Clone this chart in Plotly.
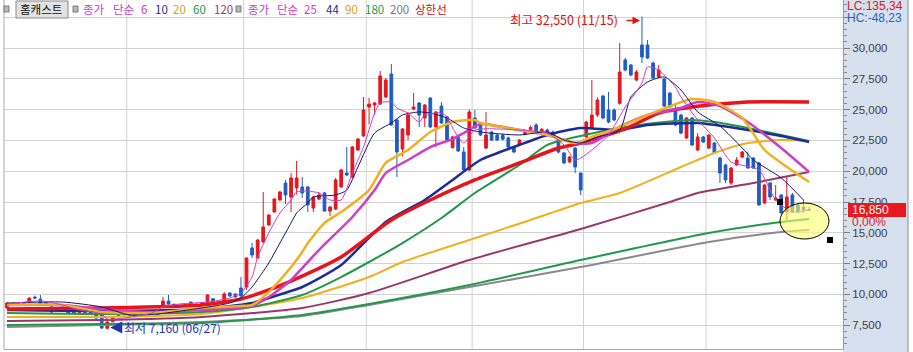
import plotly.graph_objects as go

W, H = 913, 352

# ---------------- candle data (index = trading day) ----------------
opens = [8900,9200,9200,9250,9380,9780,9620,9350,8980,8850,
         8980,8810,8600,8550,8620,8550,8490,8490,7250,7780,
         8200,8350,8400,8360,8300,8420,8500,8730,8980,9460,
         9200,9000,9100,9380,9100,9250,9300,9650,9300,9300,
         10110,10030,10520,10600,13770,12950,14250,15630,16690,17660,
         19040,17900,18640,18720,18720,17010,17740,18230,16770,16930,
         18720,19850,19530,21720,22860,25210,25370,25450,26020,27890,
         24160,21800,22940,25050,25540,24320,25940,23590,25290,24400,
         21900,22780,21560,20100,24320,23910,21880,23180,22940,22900,
         22700,21960,22130,23000,23400,23750,23250,23340,23180,22700,
         21480,20750,21880,19850,22780,23510,24560,26100,24970,24970,
         25510,29030,28620,27400,30240,30240,28780,27650,27480,26350,
         24970,24560,22700,24320,21720,22780,21880,22290,21070,20500,
         19040,20500,21150,21070,21070,20670,17420,19040,17660,18070,
         16690,18070,17260,17090,16900]
highs = [9350,9300,9320,9380,9780,9900,9950,9400,9050,8950,
         9050,8850,8650,8650,8680,8600,8550,8550,7900,8250,
         8400,8480,8450,8420,8420,8550,8650,8800,9790,9950,
         9250,9120,9200,9420,9250,9360,10000,9700,9420,10200,
         10200,10100,11410,13000,14170,14500,18310,16500,17800,18400,
         19290,19850,20830,19530,18800,18000,18310,18300,17200,19450,
         20200,21960,22050,22700,26020,25940,25620,28130,27560,28700,
         24200,23500,24810,26350,25600,25450,26000,24900,25620,24480,
         22850,22850,21960,25000,24970,24000,24810,23250,23000,23050,
         22800,22050,22600,23250,23700,23900,23500,23450,23300,22800,
         21560,21250,21950,19900,24100,27400,26000,26200,26430,25100,
         30400,29200,28700,28210,32550,30650,28900,28620,27550,26400,
         25370,24650,24400,24400,23100,22850,23000,22350,21150,20600,
         20350,21150,21650,21560,21150,20750,18950,19100,18880,18150,
         19530,18230,17350,17660,17100]
lows = [8850,9150,9150,9200,9350,9650,9100,9200,8500,8800,
        8700,8450,8450,8500,8500,8450,8000,7200,7160,7750,
        8150,8300,8250,8250,8250,8380,8450,8300,8950,9180,
        9100,8950,9050,9100,9050,9200,9250,9400,9250,9250,
        9820,9750,9800,10360,12950,12900,14200,15600,16650,17600,
        17340,16690,18100,17820,16690,16690,17650,16700,16360,16850,
        18650,19600,19450,21650,22800,23800,24560,25400,25950,23700,
        19530,21200,22530,24950,23590,23590,23500,21960,23850,22450,
        21850,21550,20000,20000,23450,22850,21800,22450,22450,22500,
        21900,21450,22050,22900,23300,23000,23150,23000,22700,21450,
        20600,20650,19850,18070,22700,23400,24400,24200,23900,24050,
        25400,28100,27700,27300,28780,29100,27500,27550,25200,25100,
        23650,23000,22600,22050,21650,22300,21800,21400,19040,19040,
        18880,20450,21050,20200,20200,17200,17350,17660,17600,16550,
        16040,16600,16600,16600,16770]
closes = [9300,9250,9260,9320,9700,9700,9140,9250,8570,8900,
          8730,8490,8500,8600,8550,8480,8080,7270,7750,8100,
          8300,8420,8320,8300,8350,8490,8600,8330,9460,9220,
          9140,9060,9140,9140,9200,9300,9950,9450,9360,10030,
          9870,9790,9870,12950,13200,14410,15470,16440,17740,18310,
          18070,19450,19450,18230,17260,17900,18070,16770,17090,19290,
          20100,19690,21960,22610,24970,25450,25540,27730,27400,23750,
          21560,23430,24560,25210,24560,25370,23590,24810,23910,22530,
          22780,21640,20100,24810,23510,22940,22940,22530,22530,22600,
          21960,21560,22530,23150,23550,23100,23400,23100,22780,21560,
          20670,21150,20340,18470,23990,24560,25780,24320,23990,24160,
          28050,28210,27810,28050,29270,29190,27560,28210,25290,25210,
          23750,23100,24320,22130,22780,22370,22940,21480,19850,19290,
          20260,20910,21560,20260,20260,17260,18880,17910,17820,16610,
          17910,16690,16690,16850,16850]
idx = list(range(len(closes)))

# month boundaries (index of first trading day of Jul..Dec)
month_start_idx = [22, 43, 65, 84, 104, 126]
low_date, high_date = "06/27", "11/15"

# ---------------- moving-average lines ----------------
ma6_x = [0,6,10,13,17,18,21,26,28,31,36,40,42,44,45,47,49,51,52,54,56,58,60,62,64,66,67,69,70,72,
         74,75,78,79,80,82,84,92,97,100,102,103,105,108,111,114,115,117,120,121,124,127,130,135,138,141,144]
ma6_v = [9220,9460,9140,8730,8410,8000,8080,8490,8980,9220,9380,9710,10110,11410,13040,14980,16610,17660,18310,18390,
         18230,17660,17660,19850,21960,24720,25540,25620,25130,24720,23990,24560,24720,24400,23510,22290,23340,23340,
         23100,22130,20910,21070,21720,22940,25210,27160,28460,28210,26830,26020,24160,22700,20750,20100,17660,16690,16850]
ma10_x = [0,10,17,22,27,35,40,42,44,47,49,51,52,54,55,59,61,63,66,69,71,74,76,79,82,85,92,97,100,103,
          106,110,112,115,118,121,124,128,132,134,139,143]
ma10_v = [9300,9380,8980,8330,8410,8900,9300,9710,10600,12550,14170,15800,16610,17420,17910,18070,18470,20340,23100,23910,
          24560,24810,24720,24320,23510,23180,22940,23180,22530,22290,22780,23340,26020,27240,27650,26590,24810,23670,
          21880,20910,19450,17660]
ma20_x = [0,10,17,26,35,42,44,47,51,53,54,57,60,65,68,72,76,80,84,85,92,97,102,105,110,115,123,127,132,136,139,144]
ma20_v = [9140,9140,8570,8490,8900,9060,9140,10190,12220,13440,14170,15800,16690,18470,20670,21720,23180,23990,24160,
          23910,23340,22940,22290,22780,23590,24560,25860,25620,24320,21720,20670,19120]
ma25_x = [0,10,17,26,35,44,47,51,53,56,62,66,68,72,76,80,82,85,92,97,102,105,110,115,121,124,128,133,139,144]
ma25_v = [9140,9140,8810,8570,8730,9060,9790,11170,12140,13600,16280,18470,19850,20910,21960,22610,23100,23830,23340,
          22940,22290,22290,23590,24560,25130,25620,25290,23990,21880,19940]
ma44_x = [0,17,35,44,47,53,60,68,75,80,85,92,97,103,110,115,124,133,139,144]
ma44_v = [8730,8650,8810,9300,9710,10600,12390,15880,17660,19290,20910,22130,22940,23510,23340,23750,23910,23340,22860,22370]
ma60_x = [0,17,35,44,53,60,65,71,78,84,92,97,103,110,118,123,127,133,139,144]
ma60_v = [8490,8410,8570,8980,9950,11410,12630,14170,16200,18230,20500,22130,22860,23510,23990,24160,23990,23510,22940,22450]
ma90_x = [0,17,35,53,65,71,83,94,103,110,121,127,133,139,144]
ma90_v = [8170,8170,8410,9710,11410,12630,14420,16040,17420,18230,20340,21480,22290,22530,22450]
ma120_x = [0,17,35,53,65,83,103,119,124,134,144]
ma120_v = [7840,7920,8170,8900,10110,12790,15310,17500,18230,19040,19940]
ma180_x = [0,17,35,53,65,83,103,126,139,144]
ma180_v = [7520,7600,7680,8330,9220,10760,12790,14980,15880,16120]
ma200_x = [0,17,35,53,65,83,103,126,139,144]
ma200_v = [7350,7520,7760,8250,9140,10600,12220,14250,15070,15230]
upper_x = [0,17,35,42,47,53,60,69,76,84,92,99,103,111,117,123,128,133,144]
upper_v = [8810,8900,9140,9630,10360,11490,13040,16040,17660,19290,20670,21880,22290,23430,24720,25210,25450,25620,25620]

y_ticks = [7500, 10000, 12500, 15000, 17500, 20000, 22500, 25000, 27500, 30000, 32500]
stock_name = "홈캐스트"
group_a = ["6", "10", "20", "60", "120"]
group_b = ["25", "44", "90", "180", "200"]
lc_text, hc_text = "LC:135,34", "HC:-48,23"

# ---------------- colours ----------------
RED = "#E5161E"
BLUE = "#1F5CC4"
MAG = "#CF3CC6"
NAVY = "#1C2C9A"
ORANGE = "#F0B020"
GREEN = "#22994A"
PURPLE = "#993868"
GRAY = "#8A8A8A"
UPPER = "#E8141B"

def px(x):
    return x / W

def py(y):
    return 1 - y / H

fig = go.Figure()

line_specs = [
    (ma200_x, ma200_v, GRAY, 2),
    (ma180_x, ma180_v, GREEN, 2),
    (ma120_x, ma120_v, PURPLE, 2),
    (ma90_x, ma90_v, ORANGE, 2),
    (ma60_x, ma60_v, GREEN, 2),
    (ma44_x, ma44_v, NAVY, 2.5),
    (upper_x, upper_v, UPPER, 3.5),
    (ma25_x, ma25_v, MAG, 2.5),
    (ma20_x, ma20_v, ORANGE, 2.5),
    (ma10_x, ma10_v, "#14146E", 1),
    (ma6_x, ma6_v, MAG, 1),
]
for xs, vs, col, wdt in line_specs:
    fig.add_trace(go.Scatter(x=xs, y=vs, mode="lines",
                             line=dict(color=col, width=wdt, shape="spline", smoothing=0.6),
                             hoverinfo="skip"))

fig.add_trace(go.Candlestick(
    x=idx, open=opens, high=highs, low=lows, close=closes,
    increasing=dict(line=dict(color=RED, width=1), fillcolor=RED),
    decreasing=dict(line=dict(color=BLUE, width=1), fillcolor=BLUE),
    whiskerwidth=0, hoverinfo="skip"))

shapes = []
# month grid lines
for m in month_start_idx:
    shapes.append(dict(type="line", xref="x", yref="paper", x0=m - 0.5, x1=m - 0.5,
                       y0=py(349), y1=1, line=dict(color="#D2D2D2", width=1), layer="below"))
# right axis panel
shapes.append(dict(type="rect", xref="paper", yref="paper", x0=px(843), x1=px(908), y0=0, y1=1,
                   fillcolor="#D7E0EE", line=dict(width=0), layer="below"))
shapes.append(dict(type="line", xref="paper", yref="paper", x0=px(908), x1=px(908), y0=0, y1=1,
                   line=dict(color="#8C8C8C", width=1)))
shapes.append(dict(type="line", xref="paper", yref="paper", x0=px(4), x1=px(4), y0=py(349), y1=1,
                   line=dict(color="#A8A8A8", width=1)))
# legend icons / button
for x0 in (4, 73, 236):
    shapes.append(dict(type="rect", xref="paper", yref="paper", x0=px(x0), x1=px(x0 + 5),
                       y0=py(12), y1=py(6), fillcolor="#B8B8B8", line=dict(color="#7A7A7A", width=1)))
shapes.append(dict(type="rect", xref="paper", yref="paper", x0=px(16), x1=px(68), y0=py(18), y1=py(1),
                   fillcolor="#E2E2E2", line=dict(color="#8A8A8A", width=1)))
# highlight ellipse with handles
shapes.append(dict(type="circle", xref="paper", yref="paper", x0=px(780), x1=px(829),
                   y0=py(239), y1=py(203), fillcolor="rgba(255,255,110,0.6)",
                   line=dict(color="black", width=1), layer="above"))
for (a, b) in ((777, 199), (827, 237)):
    shapes.append(dict(type="rect", xref="paper", yref="paper", x0=px(a), x1=px(a + 6),
                       y0=py(b + 6), y1=py(b), fillcolor="black", line=dict(width=0)))
# last price tag
last = closes[-1]
shapes.append(dict(type="rect", xref="paper", yref="paper", x0=px(848), x1=px(906),
                   y0=py(217), y1=py(203), fillcolor="#E8191E", line=dict(width=0), layer="above"))

ann = []
LF = "Noto Sans CJK KR, Liberation Sans, sans-serif"

def text(x, y, s, col, size=11.5, anchor="left", font=LF):
    ann.append(dict(xref="paper", yref="paper", x=px(x), y=py(y), text=s, showarrow=False,
                    xanchor=anchor, yanchor="middle", font=dict(family=font, size=size, color=col),
                    borderpad=0))

text(19, 9.5, stock_name, "#111111", 11.5)
text(82, 9.5, "종가", MAG); text(112, 9.5, "단순", MAG)
a_cols = [MAG, NAVY, "#E0A010", GREEN, PURPLE]
a_pos = [140, 154, 172, 192, 213]
for s, c, x in zip(group_a, a_cols, a_pos):
    text(x, 9.5, s, c)
text(247, 9.5, "종가", MAG); text(276, 9.5, "단순", MAG)
b_cols = [MAG, NAVY, "#E0A010", GREEN, "#7A7A7A"]
b_pos = [303, 325, 344, 364, 389]
for s, c, x in zip(group_b, b_cols, b_pos):
    text(x, 9.5, s, c)
text(414, 9.5, "상한선", "#D01010")

AF = "Liberation Sans, Arial, sans-serif"
text(846, 6, lc_text, "#E01818", 12, font=AF)
text(846, 18, hc_text, "#2F5FC0", 12, font=AF)
ann.append(dict(xref="paper", yref="y", x=px(850), y=last, text=f"{last:,}", showarrow=False,
                xanchor="left", yanchor="middle", font=dict(family=AF, size=12, color="white")))
chg = (closes[-1] - closes[-2]) / closes[-2] * 100
ann.append(dict(xref="paper", yref="y", x=px(850), y=last, yshift=-12,
                text=f"{chg:.2f}".replace(".", ",") + "%", showarrow=False,
                xanchor="left", yanchor="middle", font=dict(family=AF, size=12, color="#E01818")))

# high / low annotations
hi_i = highs.index(max(highs))
lo_i = lows.index(min(lows))
ann.append(dict(xref="x", yref="y", x=hi_i, y=max(highs), text=f"최고 {max(highs):,} ({high_date})",
                showarrow=False, xanchor="right", yanchor="middle", xshift=-22, yshift=-3,
                font=dict(family=LF, size=12.5, color="#E01010")))
ann.append(dict(xref="x", yref="y", x=hi_i, y=max(highs), text="", showarrow=True, ax=-17, ay=0,
                yshift=-4, arrowhead=2, arrowsize=1, arrowwidth=1.5, arrowcolor="#E01010", standoff=2))
ann.append(dict(xref="x", yref="y", x=lo_i, y=min(lows), text=f"최저 {min(lows):,} ({low_date})",
                showarrow=False, xanchor="left", yanchor="middle", xshift=15, yshift=2,
                font=dict(family=LF, size=12, color="#2233BB")))
ann.append(dict(xref="x", yref="y", x=lo_i, y=min(lows), text="", showarrow=True, ax=14, ay=0,
                yshift=2, arrowhead=2, arrowsize=1.2, arrowwidth=2, arrowcolor="#2233BB", standoff=3))

v_top, v_bot = 33896, 5568
x_lo, x_hi = (4 - 7) / 5.57, (843 - 7) / 5.57

fig.update_layout(
    width=W, height=H, margin=dict(l=0, r=0, t=0, b=0), showlegend=False,
    paper_bgcolor="white", plot_bgcolor="white",
    xaxis=dict(domain=[px(4), px(843)], range=[x_lo, x_hi], showgrid=False, zeroline=False,
               showticklabels=False, ticks="", showline=True, linecolor="#A8A8A8",
               rangeslider=dict(visible=False), fixedrange=True),
    yaxis=dict(domain=[py(349), 1], range=[v_bot, v_top], side="right", anchor="x",
               tickvals=y_ticks, ticktext=[f"{v:,}" if v <= 30000 else "" for v in y_ticks],
               showgrid=True, gridcolor="#D2D2D2", gridwidth=1, zeroline=False,
               ticks="outside", ticklen=6, tickcolor="#7F7F7F",
               tickfont=dict(family=AF, size=11.5, color="#404040"),
               showline=True, linecolor="#9A9A9A",
               minor=dict(tick0=0, dtick=500, ticks="outside", ticklen=3, tickcolor="#8A8A8A", showgrid=False),
               fixedrange=True),
    shapes=shapes, annotations=ann,
)

fig.write_html("out.html")
